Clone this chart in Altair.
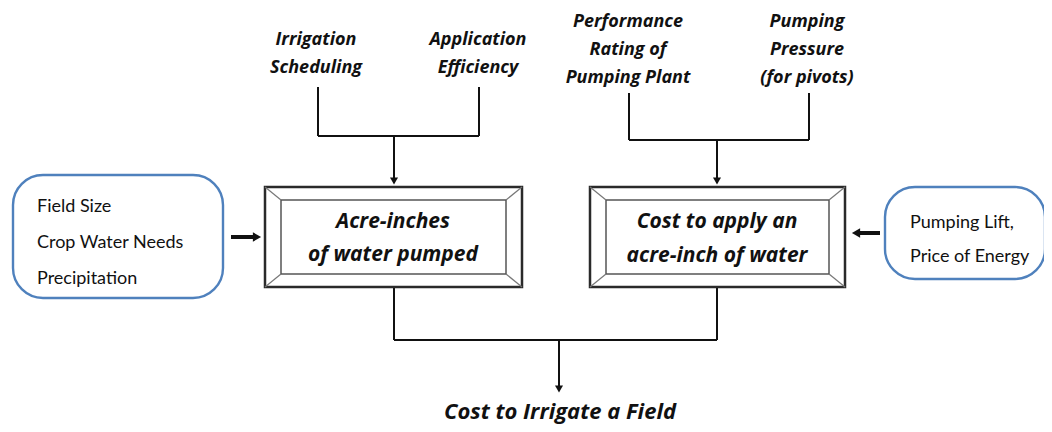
import altair as alt
import pandas as pd

# ---- diagram content ----
top_inputs_a = ["Irrigation\nScheduling", "Application\nEfficiency"]
top_inputs_b = ["Performance\nRating of\nPumping Plant", "Pumping\nPressure\n(for pivots)"]
side_left = ["Field Size", "Crop Water Needs", "Precipitation"]
side_right = ["Pumping Lift,", "Price of Energy"]
box_a = ["Acre-inches", "of water pumped"]
box_b = ["Cost to apply an", "acre-inch of water"]
result = "Cost to Irrigate a Field"

# ---- layout anchors (page pixels) ----
box_a_xy = [265, 187, 522, 287]
box_b_xy = [590, 187, 845, 287]
inset = [16, 13]
round_l = [13, 175, 223, 298]
round_r = [885, 187, 1045, 279]
top_a_x = [316, 478]
top_b_x = [628, 807]
branch_a = [318, 479, 87, 136, 394]
branch_b = [629, 809, 93, 140, 717]
join = [394, 717, 287, 340, 559, 394]

X = alt.X("x:Q", scale=alt.Scale(domain=[8, 1044], nice=False, zero=False), axis=None)
Y = alt.Y("y:Q", scale=alt.Scale(domain=[424, 8], nice=False, zero=False), axis=None)
X2 = alt.X2("x2:Q")
Y2 = alt.Y2("y2:Q")

# rounded boxes
rb = pd.DataFrame([
    dict(x=round_l[0], y=round_l[1], x2=round_l[2], y2=round_l[3]),
    dict(x=round_r[0], y=round_r[1], x2=round_r[2], y2=round_r[3]),
])
rounded = alt.Chart(rb).mark_rect(cornerRadius=30, fill="white", stroke="#4f81bd", strokeWidth=2.4).encode(X, Y, X2, Y2)

# bevel boxes
outer_rows, inner_rows, bevel_rows = [], [], []
for bx in (box_a_xy, box_b_xy):
    x0, y0, x1, y1 = bx
    ix0, iy0, ix1, iy1 = x0 + inset[0], y0 + inset[1], x1 - inset[0], y1 - inset[1]
    outer_rows.append(dict(x=x0, y=y0, x2=x1, y2=y1))
    inner_rows.append(dict(x=ix0, y=iy0, x2=ix1, y2=iy1))
    bevel_rows += [dict(x=x0, y=y0, x2=ix0, y2=iy0), dict(x=x1, y=y0, x2=ix1, y2=iy0),
                   dict(x=x0, y=y1, x2=ix0, y2=iy1), dict(x=x1, y=y1, x2=ix1, y2=iy1)]
outer = alt.Chart(pd.DataFrame(outer_rows)).mark_rect(fill="white", stroke="#2a2a2a", strokeWidth=2.5).encode(X, Y, X2, Y2)
inner = alt.Chart(pd.DataFrame(inner_rows)).mark_rect(fill="white", stroke="#555555", strokeWidth=1.5).encode(X, Y, X2, Y2)
bevel = alt.Chart(pd.DataFrame(bevel_rows)).mark_rule(stroke="#777777", strokeWidth=1.2).encode(X, Y, X2, Y2)

# connector lines
seg = []
for b in (branch_a, branch_b):
    xl, xr, yt, yh, xc = b
    seg += [dict(x=xl, y=yt, x2=xl, y2=yh), dict(x=xr, y=yt, x2=xr, y2=yh),
            dict(x=xl, y=yh, x2=xr, y2=yh), dict(x=xc, y=yh, x2=xc, y2=183)]
jl, jr, jt, jb, jc, jend = join
seg += [dict(x=jl, y=jt, x2=jl, y2=jb), dict(x=jr, y=jt, x2=jr, y2=jb),
        dict(x=jl, y=jb, x2=jr, y2=jb), dict(x=jc, y=jb, x2=jc, y2=jend - 4)]
lines = alt.Chart(pd.DataFrame(seg)).mark_rule(stroke="#111111", strokeWidth=2).encode(X, Y, X2, Y2)

heads = pd.DataFrame([dict(x=branch_a[4], y=181), dict(x=branch_b[4], y=181), dict(x=jc, y=jend - 5)])
head_marks = alt.Chart(heads).mark_point(shape="triangle-down", filled=True, color="#111111", size=65, opacity=1).encode(X, Y)

# thick side arrows
thick = pd.DataFrame([dict(x=231, y=237, x2=255, y2=237), dict(x=880, y=233, x2=858, y2=233)])
thick_lines = alt.Chart(thick).mark_rule(stroke="#111111", strokeWidth=4).encode(X, Y, X2, Y2)
th = pd.DataFrame([dict(x=257, y=237, s="triangle-right"), dict(x=856, y=233, s="triangle-left")])
thick_heads = alt.Chart(th).mark_point(filled=True, color="#111111", size=90, opacity=1).encode(
    X, Y, shape=alt.Shape("s:N", scale=None, legend=None))

# texts
top_rows = []
for lab, x in zip(top_inputs_a, top_a_x):
    for i, t in enumerate(lab.split("\n")):
        top_rows.append(dict(x=x, y=40 + 28 * i, t=t))
for lab, x in zip(top_inputs_b, top_b_x):
    for i, t in enumerate(lab.split("\n")):
        top_rows.append(dict(x=x, y=22 + 28 * i, t=t))
top_text = alt.Chart(pd.DataFrame(top_rows)).mark_text(
    font="Open Sans", fontSize=18, fontWeight="bold", fontStyle="italic", color="#111111", baseline="middle"
).encode(X, Y, text="t:N")

box_rows = [dict(x=393, y=222, t=box_a[0]), dict(x=393, y=255, t=box_a[1]),
            dict(x=717, y=222, t=box_b[0]), dict(x=717, y=256, t=box_b[1])]
box_text = alt.Chart(pd.DataFrame(box_rows)).mark_text(
    font="Open Sans", fontSize=21, fontWeight="bold", fontStyle="italic", color="#111111", baseline="middle"
).encode(X, Y, text="t:N")

side_rows = [dict(x=37, y=207 + 36 * i, t=t) for i, t in enumerate(side_left)] + \
            [dict(x=910, y=223 + 34 * i, t=t) for i, t in enumerate(side_right)]
side_text = alt.Chart(pd.DataFrame(side_rows)).mark_text(
    font="Lato", fontSize=18, color="#111111", baseline="middle", align="left"
).encode(X, Y, text="t:N")

res_text = alt.Chart(pd.DataFrame([dict(x=560, y=412, t=result)])).mark_text(
    font="Open Sans", fontSize=22, fontWeight="bold", fontStyle="italic", color="#111111", baseline="middle"
).encode(X, Y, text="t:N")

chart = alt.layer(
    lines, rounded, outer, inner, bevel, head_marks, thick_lines, thick_heads,
    top_text, box_text, side_text, res_text
).properties(
    width=1036, height=416, padding=0, autosize=alt.AutoSizeParams(type="none"), background="white"
).configure_view(stroke=None)

chart.save("out.html", embed_options={"renderer": "svg", "actions": False})
